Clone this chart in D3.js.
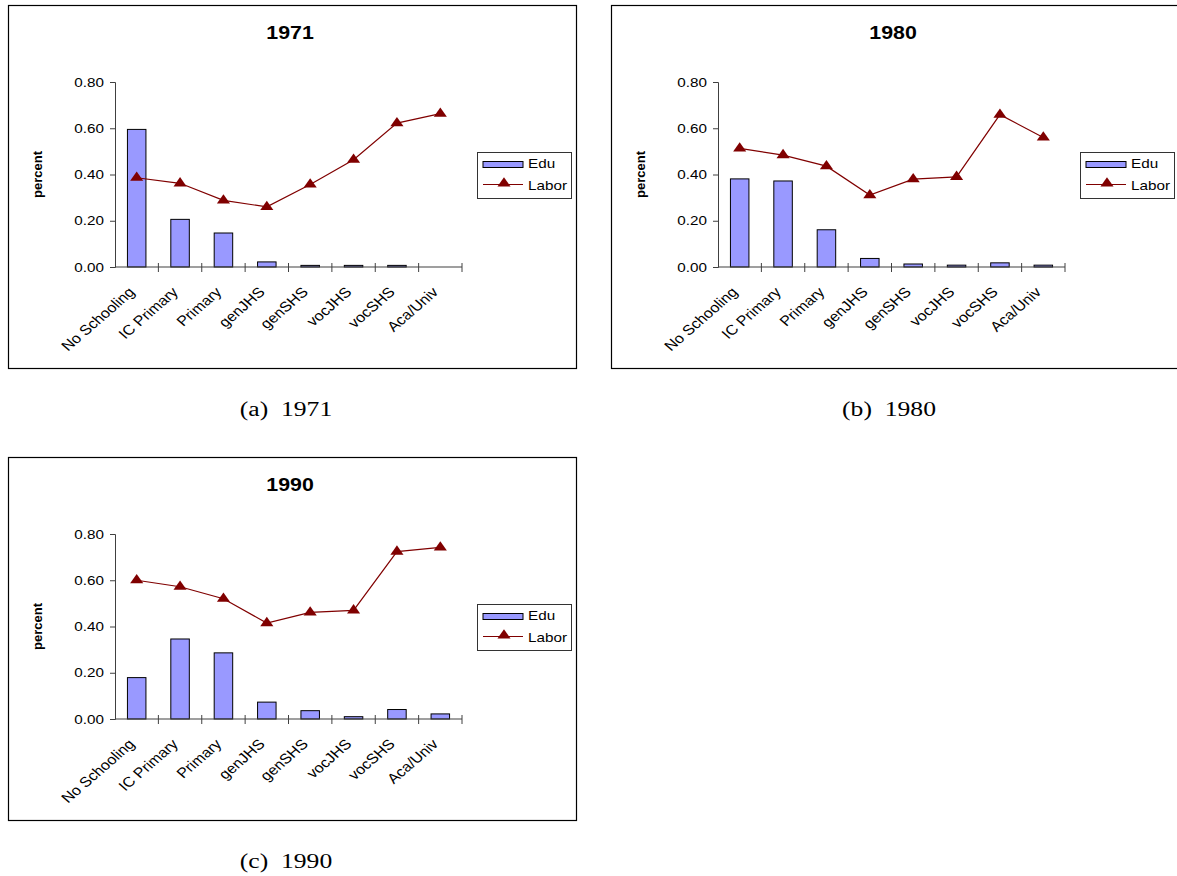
<!DOCTYPE html>
<html>
<head>
<meta charset="utf-8">
<script src="https://cdn.jsdelivr.net/npm/d3@7"></script>
<style>
  body { margin: 0; background: #fff; }
  text { font-family: "Liberation Sans", Arial, sans-serif; }
</style>
</head>
<body>
<svg id="chart"></svg>
<script>
const categories = ["No Schooling", "IC Primary", "Primary", "genJHS", "genSHS", "vocJHS", "vocSHS", "Aca/Univ"];
const yTicks = [0, 0.2, 0.4, 0.6, 0.8];

const edu1971 = [0.595, 0.206, 0.147, 0.022, 0.007, 0.007, 0.007, 0];
const labor1971 = [0.386, 0.362, 0.288, 0.260, 0.357, 0.464, 0.622, 0.663];

const edu1980 = [0.381, 0.372, 0.161, 0.037, 0.013, 0.008, 0.018, 0.008];
const labor1980 = [0.513, 0.484, 0.436, 0.311, 0.380, 0.390, 0.659, 0.560];

const edu1990 = [0.179, 0.346, 0.286, 0.073, 0.036, 0.010, 0.041, 0.022];
const labor1990 = [0.600, 0.572, 0.520, 0.415, 0.461, 0.470, 0.724, 0.742];

const panels = [
  { title: "1971", caption: "(a)  1971", edu: edu1971, labor: labor1971, x: 8, y: 5 },
  { title: "1980", caption: "(b)  1980", edu: edu1980, labor: labor1980, x: 611, y: 5 },
  { title: "1990", caption: "(c)  1990", edu: edu1990, labor: labor1990, x: 8, y: 457 }
];

const W = 1177, H = 876;
const frameW = 568, frameH = 363;
const sx = 1.22; // the original picture is stretched sideways
const svg = d3.select("#chart").attr("width", W).attr("height", H);

const barColor = "#9999ff";
const lineColor = "#800000";
const axisColor = "#404040";

function drawPanel(p) {
  const g = svg.append("g").attr("transform", `translate(${p.x},${p.y})`);

  g.append("rect")
    .attr("x", 0.5).attr("y", 0.5)
    .attr("width", frameW).attr("height", frameH)
    .attr("fill", "#fff").attr("stroke", "#000").attr("stroke-width", 1.2);

  g.append("text")
    .attr("transform", `translate(${frameW / 2 - 2},34) scale(${sx},1)`)
    .attr("text-anchor", "middle")
    .style("font-size", "17.5px").style("font-weight", "bold")
    .text(p.title);

  const left = 107, top = 77, plotW = 347, plotH = 185;

  const x = d3.scaleBand().domain(categories).range([left, left + plotW]);
  const y = d3.scaleLinear().domain([0, 0.8]).range([top + plotH, top]);

  // y axis
  const yAxis = g.append("g")
    .attr("transform", `translate(${left},0)`)
    .call(d3.axisLeft(y).tickValues(yTicks).tickFormat(d3.format(".2f")).tickSize(5));
  yAxis.select(".domain").attr("stroke", axisColor);
  yAxis.selectAll(".tick line").attr("stroke", axisColor);
  yAxis.selectAll("text")
    .attr("x", 0)
    .attr("transform", `translate(-11,0) scale(${sx},1)`)
    .style("font-size", "12.5px").attr("fill", "#000");

  g.append("text")
    .attr("transform", `translate(34,${top + plotH / 2}) rotate(-90)`)
    .attr("text-anchor", "middle")
    .style("font-size", "13px").style("font-weight", "bold")
    .text("percent");

  // bars
  const bw = 18.5;
  g.selectAll(".bar")
    .data(categories)
    .enter()
    .append("rect")
    .attr("class", "bar")
    .attr("x", (d) => x(d) + x.bandwidth() / 2 - bw / 2)
    .attr("y", (d, i) => y(p.edu[i]))
    .attr("width", bw)
    .attr("height", (d, i) => y(0) - y(p.edu[i]))
    .attr("fill", barColor)
    .attr("stroke", "#000")
    .attr("stroke-width", (d, i) => p.edu[i] > 0 ? 1 : 0);

  // x axis with crossing ticks at category boundaries
  g.append("line")
    .attr("x1", left).attr("x2", left + plotW)
    .attr("y1", y(0)).attr("y2", y(0))
    .attr("stroke", axisColor).attr("stroke-width", 1.2);
  const bounds = categories.map((d) => x(d)).concat([left + plotW]);
  g.selectAll(".xtick")
    .data(bounds.slice(1))
    .enter()
    .append("line")
    .attr("x1", (d) => d).attr("x2", (d) => d)
    .attr("y1", y(0) - 4).attr("y2", y(0) + 5)
    .attr("stroke", axisColor);

  g.selectAll(".xlabel")
    .data(categories)
    .enter()
    .append("text")
    .attr("text-anchor", "end")
    .attr("transform", (d) => `translate(${x(d) + x.bandwidth() / 2 - 1},${y(0) + 26}) scale(1.15,1) rotate(-45)`)
    .style("font-size", "14px")
    .text((d) => d);

  // labor line
  const line = d3.line()
    .x((d, i) => x(categories[i]) + x.bandwidth() / 2)
    .y((d) => y(d));
  g.append("path")
    .datum(p.labor)
    .attr("d", line)
    .attr("fill", "none")
    .attr("stroke", lineColor)
    .attr("stroke-width", 1.2);

  const tri = d3.symbol().type(d3.symbolTriangle).size(50);
  g.selectAll(".marker")
    .data(p.labor)
    .enter()
    .append("path")
    .attr("d", tri)
    .attr("transform", (d, i) => `translate(${x(categories[i]) + x.bandwidth() / 2},${y(d)}) scale(${sx},1)`)
    .attr("fill", lineColor);

  // legend
  const lg = g.append("g").attr("transform", "translate(469,147)");
  lg.append("rect")
    .attr("x", 0.5).attr("y", 0.5).attr("width", 94).attr("height", 46)
    .attr("fill", "#fff").attr("stroke", "#333").attr("stroke-width", 1);
  lg.append("rect")
    .attr("x", 6).attr("y", 9.5).attr("width", 40).attr("height", 6)
    .attr("fill", barColor).attr("stroke", "#000");
  lg.append("text")
    .attr("transform", `translate(51,15.5) scale(${sx},1)`)
    .style("font-size", "12.5px").text("Edu");
  lg.append("line")
    .attr("x1", 6).attr("x2", 46).attr("y1", 32.5).attr("y2", 32.5)
    .attr("stroke", lineColor).attr("stroke-width", 1.2);
  lg.append("path").attr("d", tri)
    .attr("transform", `translate(27,31.5) scale(${sx},1)`).attr("fill", lineColor);
  lg.append("text")
    .attr("transform", `translate(51,37.5) scale(${sx},1)`)
    .style("font-size", "12.5px").text("Labor");

  // caption
  svg.append("text")
    .attr("transform", `translate(${p.x + frameW / 2 - 6},${p.y + frameH + 48}) scale(1.25,1)`)
    .attr("text-anchor", "middle")
    .style("font-family", "'Liberation Serif', serif")
    .style("font-size", "20.5px")
    .style("white-space", "pre")
    .text(p.caption);
}

panels.forEach(drawPanel);
</script>
</body>
</html>
